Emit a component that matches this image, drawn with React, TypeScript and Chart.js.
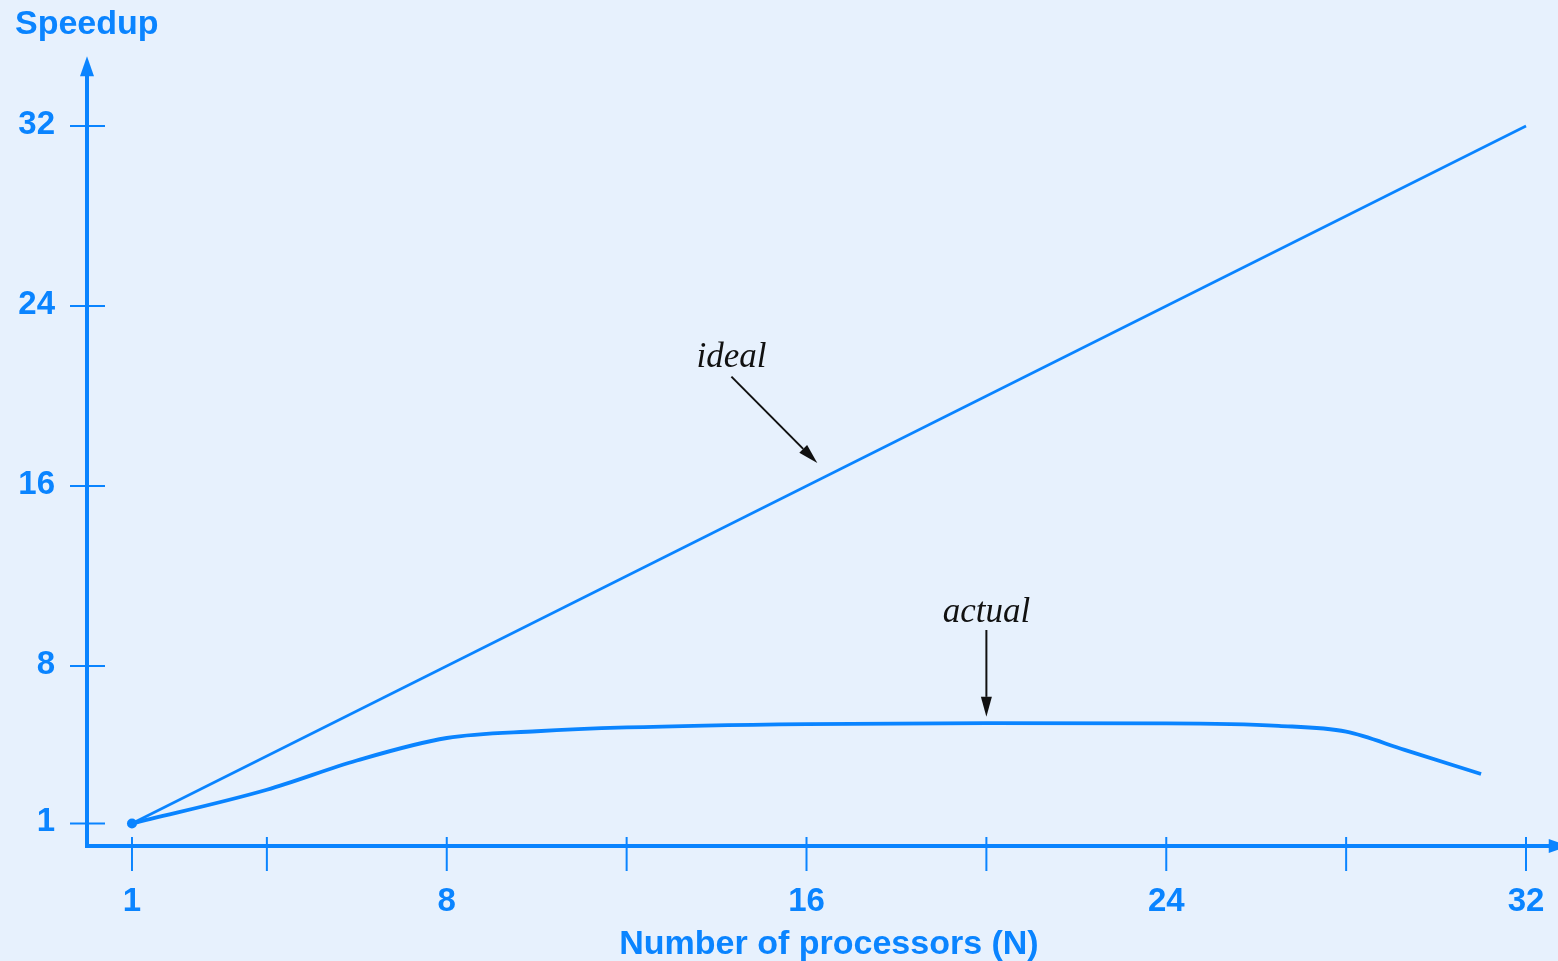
import React, { useEffect, useRef } from "react";
import { Chart, registerables } from "chart.js";

Chart.register(...registerables);

// ---- data ----
const idealX = [1, 32];
const idealY = [1, 32];
const actualX = [1, 4, 6, 8, 10, 12, 16, 20, 24, 26.5, 28, 29.3, 31];
const actualY = [1, 2.5, 3.8, 4.8, 5.1, 5.27, 5.42, 5.46, 5.45, 5.34, 5.08, 4.27, 3.2];
const xTickValues = [1, 4, 8, 12, 16, 20, 24, 28, 32];
const xTickLabels = ["1", "", "8", "", "16", "", "24", "", "32"];
const yTickValues = [1, 8, 16, 24, 32];
const yTickLabels = ["1", "8", "16", "24", "32"];
const yTitle = "Speedup";
const xTitle = "Number of processors (N)";
const annoLabels = ["ideal", "actual"];
const annoLabelX = [14.33, 20.0];
const annoLabelY = [21.3, 9.95];
const annoFromX = [14.33, 20.0];
const annoFromY = [20.86, 9.6];
const annoToX = [16.24, 20.0];
const annoToY = [17.02, 5.74];

const BG = "#e7f1fd";
const BLUE = "#0a84ff";
const SANS = '"Liberation Sans", Arial, sans-serif';
const SERIF = '"Liberation Serif", "Times New Roman", serif';

function arrowHead(ctx: CanvasRenderingContext2D, fx: number, fy: number, tx: number, ty: number, len: number, half: number) {
  const dx = tx - fx;
  const dy = ty - fy;
  const d = Math.hypot(dx, dy);
  const ux = dx / d;
  const uy = dy / d;
  const bx = tx - ux * len;
  const by = ty - uy * len;
  ctx.beginPath();
  ctx.moveTo(tx, ty);
  ctx.lineTo(bx - uy * half, by + ux * half);
  ctx.lineTo(bx + uy * half, by - ux * half);
  ctx.closePath();
  ctx.fill();
  return [bx, by];
}

const decorPlugin = {
  id: "decor",
  beforeDraw(chart: any) {
    const ctx = chart.ctx as CanvasRenderingContext2D;
    ctx.save();
    ctx.fillStyle = BG;
    ctx.fillRect(0, 0, chart.width, chart.height);
    ctx.restore();
  },
  beforeDatasetsDraw(chart: any) {
    const ctx = chart.ctx as CanvasRenderingContext2D;
    const xs = chart.scales.x;
    const ys = chart.scales.y;
    const x0 = xs.getPixelForValue(0);
    const y0 = ys.getPixelForValue(0);
    const yTip = ys.getPixelForValue(35.1);
    const xTip = xs.getPixelForValue(32.95);
    ctx.save();
    ctx.strokeStyle = BLUE;
    ctx.fillStyle = BLUE;
    // axes
    ctx.lineWidth = 4;
    ctx.lineJoin = "miter";
    ctx.beginPath();
    ctx.moveTo(x0, yTip + 18);
    ctx.lineTo(x0, y0);
    ctx.lineTo(xTip - 18, y0);
    ctx.stroke();
    arrowHead(ctx, x0, y0, x0, yTip, 20, 7);
    arrowHead(ctx, x0, y0, xTip, y0, 20, 7);
    // ticks
    ctx.lineWidth = 2;
    yTickValues.forEach((v) => {
      const py = ys.getPixelForValue(v);
      ctx.beginPath();
      ctx.moveTo(x0 - 17, py);
      ctx.lineTo(x0 + 18, py);
      ctx.stroke();
    });
    xTickValues.forEach((v) => {
      const px = xs.getPixelForValue(v);
      ctx.beginPath();
      ctx.moveTo(px, y0 - 9);
      ctx.lineTo(px, y0 + 25);
      ctx.stroke();
    });
    // tick labels
    ctx.font = `bold 33px ${SANS}`;
    ctx.textBaseline = "alphabetic";
    ctx.textAlign = "right";
    yTickValues.forEach((v, i) => {
      ctx.fillText(yTickLabels[i], x0 - 32, ys.getPixelForValue(v) + 7.5);
    });
    ctx.textAlign = "center";
    xTickValues.forEach((v, i) => {
      if (xTickLabels[i]) ctx.fillText(xTickLabels[i], xs.getPixelForValue(v), y0 + 65);
    });
    // titles
    ctx.font = `bold 34px ${SANS}`;
    ctx.textAlign = "left";
    ctx.fillText(yTitle, x0 - 72, yTip - 22);
    ctx.textAlign = "center";
    ctx.fillText(xTitle, (xs.getPixelForValue(1) + xs.getPixelForValue(32)) / 2, y0 + 108);
    ctx.restore();
  },
  afterDatasetsDraw(chart: any) {
    const ctx = chart.ctx as CanvasRenderingContext2D;
    const xs = chart.scales.x;
    const ys = chart.scales.y;
    ctx.save();
    ctx.fillStyle = "#111111";
    ctx.strokeStyle = "#111111";
    ctx.font = `italic 35px ${SERIF}`;
    ctx.textAlign = "center";
    ctx.textBaseline = "alphabetic";
    annoLabels.forEach((t, i) => {
      ctx.fillText(t, xs.getPixelForValue(annoLabelX[i]), ys.getPixelForValue(annoLabelY[i]));
      const fx = xs.getPixelForValue(annoFromX[i]);
      const fy = ys.getPixelForValue(annoFromY[i]);
      const tx = xs.getPixelForValue(annoToX[i]);
      const ty = ys.getPixelForValue(annoToY[i]);
      const [bx, by] = arrowHead(ctx, fx, fy, tx, ty, 20, 5.5);
      ctx.lineWidth = 2;
      ctx.beginPath();
      ctx.moveTo(fx, fy);
      ctx.lineTo(bx, by);
      ctx.stroke();
    });
    ctx.restore();
  },
};

export default function App() {
  const ref = useRef<HTMLCanvasElement | null>(null);
  useEffect(() => {
    if (!ref.current) return;
    const chart = new Chart(ref.current, {
      type: "line",
      data: {
        datasets: [
          {
            label: "ideal",
            data: idealX.map((x, i) => ({ x, y: idealY[i] })),
            borderColor: BLUE,
            borderWidth: 2.6,
            pointRadius: 0,
            tension: 0,
            clip: false as any,
          },
          {
            label: "actual",
            data: actualX.map((x, i) => ({ x, y: actualY[i] })),
            borderColor: BLUE,
            backgroundColor: BLUE,
            borderWidth: 3.8,
            cubicInterpolationMode: "monotone",
            pointRadius: (c: any) => (c.dataIndex === 0 ? 5 : 0),
            pointBorderWidth: 0,
            pointBackgroundColor: BLUE,
            clip: false as any,
          },
        ],
      },
      options: {
        responsive: false,
        animation: false,
        devicePixelRatio: 1,
        events: [],
        layout: { padding: { left: 87, right: 4, top: 58.5, bottom: 115 } },
        plugins: { legend: { display: false }, tooltip: { enabled: false } },
        scales: {
          x: { type: "linear", min: 0, max: 32.6, display: false },
          y: { type: "linear", min: 0, max: 35, display: false },
        },
      },
      plugins: [decorPlugin],
    } as any);
    return () => chart.destroy();
  }, []);
  return (
    <div style={{ position: "fixed", left: 0, top: 0, width: 1558, height: 961, background: BG }}>
      <canvas ref={ref} width={1558} height={961} style={{ display: "block" }} />
    </div>
  );
}
